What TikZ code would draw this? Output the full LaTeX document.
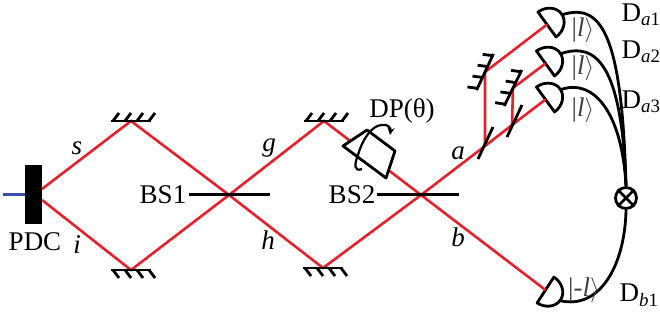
\documentclass[tikz,border=0pt]{standalone}
\usepackage{fontspec}
\setmainfont{Liberation Serif}
\tikzset{
  x=1pt,y=1pt,
  beam/.style={draw=myred,line width=2.6pt},
  blk/.style={draw=black,line width=2.8pt},
  txt/.style={font=\fontsize{27}{29}\selectfont,inner sep=0pt},
  ket/.style={font=\fontsize{27}{29}\selectfont,inner sep=0pt,text=black!75},
  pics/mirror/.style={code={
    \draw[blk] (-20,0)--(20,0);
    \foreach \xh in {-18,-6,6,18}
      \draw[blk] (\xh,0)--++(#1);
  }},
  pics/detector/.style={code={
    \draw[blk,line join=round] (0,-15.4) arc[start angle=-90,end angle=90,x radius=18,y radius=15.4]--cycle;
    \coordinate (-in) at (0,0);
    \coordinate (-out) at (18,-1);
  }}
}
\definecolor{myred}{RGB}{232,32,44}
\definecolor{myblue}{RGB}{58,80,170}
\begin{document}
\begin{tikzpicture}
  \useasboundingbox (0,0) rectangle (660,323);
  \node[fill=black,minimum width=17,minimum height=59,inner sep=0pt] (pdc) at (33.5,128.5) {};
  \coordinate (pump) at (3,128.5);
  \coordinate (pdcs) at (42,134);
  \coordinate (pdci) at (42,123);
  \coordinate (bsone) at (229,128);
  \coordinate (bstwo) at (421,128);
  \coordinate (ms) at (131,202);
  \coordinate (mi) at (131,53);
  \coordinate (mg) at (324,202);
  \coordinate (mh) at (323,55);
  \coordinate (sa) at (485,177);
  \coordinate (sb) at (512,198);
  \coordinate (ma) at (485,251);
  \coordinate (mb) at (513,235);
  \pic[rotate=36] (da) at (547,298.5) {detector};
  \pic[rotate=36] (db) at (545.5,259.5) {detector};
  \pic[rotate=36] (dc) at (545.5,223.5) {detector};
  \pic[rotate=-33] (dd) at (545.5,33) {detector};
  % beams
  \draw[myblue,line width=2.4pt] (pump)--(pdc.west);
  \draw[beam] (pdcs)--(ms)--(bsone)--(mh)--(bstwo)--(sa)--(sb)--(dc-in);
  \draw[beam] (pdci)--(mi)--(bsone)--(mg)--(bstwo)--(dd-in);
  \draw[beam] (sa)--(ma)--(da-in);
  \draw[beam] (sb)--(mb)--(db-in);
  % mirrors
  \pic at (ms) {mirror={6,8}};
  \pic at (mg) {mirror={6,8}};
  \pic[yscale=-1] at (mi) {mirror={6,8}};
  \pic[yscale=-1] at (mh) {mirror={6,8}};
  \pic[rotate=65] at (ma) {mirror={-3,9.6}};
  \pic[rotate=64] at (mb) {mirror={-3,9.6}};
  % beam splitters
  \draw[blk] (189,128.5)--(270,128.5);
  \draw[blk] (377,128.5)--(459,128.5);
  \draw[blk] (478,164)--(493,196);
  \draw[blk] (507,186)--(522,218);
  % prism
  \draw[blk,fill=white,line join=round] (343,177)--(367,193)--(395,172)--(386,145)--cycle;
  \draw[blk,->,>=stealth,line width=2.2pt] (362,154) .. controls (354,151) and (354,158) .. (358,168)
    .. controls (362,183) and (372,198) .. (382,198)
    .. controls (388,199) and (391,195) .. (390,188);
  % outputs
  \node[draw=black,line width=2.8pt,circle,minimum size=21,inner sep=0pt] (mix) at (626,125) {};
  \draw[blk] (mix.45)--(mix.225);
  \draw[blk] (mix.135)--(mix.315);
  \draw[blk] (da-out) .. controls (600,320) and (622,293) .. (mix.north);
  \draw[blk] (db-out) .. controls (595,281) and (622,261) .. (mix.north);
  \draw[blk] (dc-out) .. controls (592,245) and (622,213) .. (mix.north);
  \draw[blk] (dd-out) .. controls (600,13) and (625,58) .. (mix.south);
  % labels
  \node[txt] (lpdc) at (35,81) {PDC};
  \node[txt] (lbsone) at (163,128) {BS1};
  \node[txt] (lbstwo) at (352,128) {BS2};
  \node[txt] (ldp) at (402,212) {DP(θ)};
  \node[txt] (ls) at (77,175) {\textit{s}};
  \node[txt] (li) at (77,78) {\textit{i}};
  \node[txt] (lg) at (269,175) {\textit{g}};
  \node[txt] (lh) at (268,83) {\textit{h}};
  \node[txt] (la) at (458,170) {\textit{a}};
  \node[txt] (lb) at (458,86) {\textit{b}};
  \node[ket] (ka) at (583,293) {|\textit{l}$\rangle$};
  \node[ket] (kb) at (583,255) {|\textit{l}$\rangle$};
  \node[ket] (kc) at (583,213) {|\textit{l}$\rangle$};
  \node[ket] (kd) at (584,33) {|-\textit{l}$\rangle$};
  \node[txt] (tda) at (641,308) {D\textsubscript{\textit{a}1}};
  \node[txt] (tdb) at (641,271) {D\textsubscript{\textit{a}2}};
  \node[txt] (tdc) at (641,221) {D\textsubscript{\textit{a}3}};
  \node[txt] (tdd) at (639,28) {D\textsubscript{\textit{b}1}};
\end{tikzpicture}
\end{document}
